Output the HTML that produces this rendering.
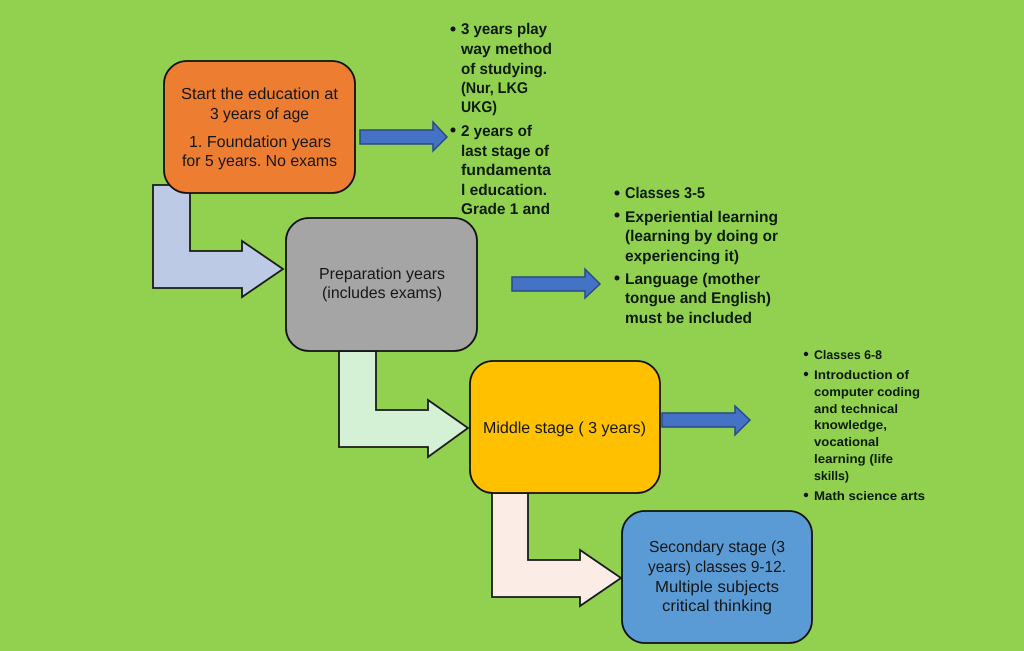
<!DOCTYPE html>
<html><head><meta charset="utf-8"><style>
html,body{margin:0;padding:0;background:#92D050}
svg{display:block;filter:blur(0.3px)}
text{font-family:"Liberation Sans",sans-serif;fill:#161616;text-rendering:geometricPrecision}
.r{font-size:16px}
.b{font-size:15.5px;font-weight:bold;fill:#0c1a08}
.s{font-size:12.5px;font-weight:bold;fill:#0c1a08}
.bx{stroke:#111;stroke-width:1.8}
.bent{stroke:#1a1a1a;stroke-width:1.8;stroke-linejoin:miter}
.ar{fill:#4472C4;stroke:#264A86;stroke-width:1.5}
</style></head><body>
<svg width="1024" height="651" viewBox="0 0 1024 651" xmlns="http://www.w3.org/2000/svg">
<rect width="1024" height="651" fill="#92D050"/>

<polygon class="bent" fill="#BDCAE5" points="153,185 190,185 190,251 242,251 242,241 283,269 242,297 242,288 153,288"/>
<polygon class="bent" fill="#D4F1D5" points="339,351 376,351 376,410 428,410 428,400 468,428 428,457 428,447 339,447"/>
<polygon class="bent" fill="#FBECE6" points="492,493 528,493 528,560 580,560 580,550 621,578 580,606 580,597 492,597"/>

<rect class="bx" x="164" y="61" width="191" height="132" rx="23" fill="#ED7D31"/>
<rect class="bx" x="286" y="218" width="191" height="133" rx="23" fill="#A5A5A5"/>
<rect class="bx" x="470" y="361" width="190" height="132" rx="23" fill="#FFC000"/>
<rect class="bx" x="622" y="511" width="190" height="132" rx="23" fill="#5B9BD5"/>

<polygon class="ar" points="360,130 433,130 433,122 447,137 433,151 433,144 360,144"/>
<polygon class="ar" points="512,277 585,277 585,269 600,284 585,298 585,291 512,291"/>
<polygon class="ar" points="662,413 735,413 735,406 750,420 735,435 735,427 662,427"/>

<text class="r" x="181" y="99" textLength="157" lengthAdjust="spacingAndGlyphs">Start the education at</text>
<text class="r" x="210" y="119" textLength="99" lengthAdjust="spacingAndGlyphs">3 years of age</text>
<text class="r" x="189" y="147" textLength="142" lengthAdjust="spacingAndGlyphs">1. Foundation years</text>
<text class="r" x="182" y="166" textLength="155" lengthAdjust="spacingAndGlyphs">for 5 years. No exams</text>

<text class="r" x="319" y="279" textLength="126" lengthAdjust="spacingAndGlyphs">Preparation years</text>
<text class="r" x="322" y="298" textLength="120" lengthAdjust="spacingAndGlyphs">(includes exams)</text>

<text class="r" x="483" y="433" textLength="163" lengthAdjust="spacingAndGlyphs">Middle stage ( 3 years)</text>

<text class="r" x="649" y="552" textLength="136" lengthAdjust="spacingAndGlyphs">Secondary stage (3</text>
<text class="r" x="648" y="572" textLength="138" lengthAdjust="spacingAndGlyphs">years) classes 9-12.</text>
<text class="r" x="655" y="592" textLength="124" lengthAdjust="spacingAndGlyphs">Multiple subjects</text>
<text class="r" x="662" y="611" textLength="110" lengthAdjust="spacingAndGlyphs">critical thinking</text>

<circle cx="453" cy="29" r="2.5" fill="#111"/>
<text class="b" x="461" y="34" textLength="86" lengthAdjust="spacingAndGlyphs">3 years play</text>
<text class="b" x="461" y="54" textLength="91" lengthAdjust="spacingAndGlyphs">way method</text>
<text class="b" x="461" y="74" textLength="86" lengthAdjust="spacingAndGlyphs">of studying.</text>
<text class="b" x="461" y="93" textLength="67" lengthAdjust="spacingAndGlyphs">(Nur, LKG</text>
<text class="b" x="461" y="112" textLength="36" lengthAdjust="spacingAndGlyphs">UKG)</text>
<circle cx="453" cy="130" r="2.5" fill="#111"/>
<text class="b" x="461" y="136" textLength="71" lengthAdjust="spacingAndGlyphs">2 years of</text>
<text class="b" x="461" y="156" textLength="88" lengthAdjust="spacingAndGlyphs">last stage of</text>
<text class="b" x="461" y="175" textLength="90" lengthAdjust="spacingAndGlyphs">fundamenta</text>
<text class="b" x="461" y="195" textLength="86" lengthAdjust="spacingAndGlyphs">l education.</text>
<text class="b" x="461" y="214" textLength="89" lengthAdjust="spacingAndGlyphs">Grade 1 and</text>

<circle cx="617" cy="193" r="2.5" fill="#111"/>
<text class="b" x="625" y="198" textLength="80" lengthAdjust="spacingAndGlyphs">Classes 3-5</text>
<circle cx="617" cy="215" r="2.5" fill="#111"/>
<text class="b" x="625" y="222" textLength="153" lengthAdjust="spacingAndGlyphs">Experiential learning</text>
<text class="b" x="625" y="241" textLength="153" lengthAdjust="spacingAndGlyphs">(learning by doing or</text>
<text class="b" x="625" y="261" textLength="114" lengthAdjust="spacingAndGlyphs">experiencing it)</text>
<circle cx="617" cy="278" r="2.5" fill="#111"/>
<text class="b" x="625" y="284" textLength="135" lengthAdjust="spacingAndGlyphs">Language (mother</text>
<text class="b" x="625" y="303" textLength="146" lengthAdjust="spacingAndGlyphs">tongue and English)</text>
<text class="b" x="625" y="323" textLength="127" lengthAdjust="spacingAndGlyphs">must be included</text>

<circle cx="806" cy="354" r="2.2" fill="#111"/>
<text class="s" x="814" y="359" textLength="68" lengthAdjust="spacingAndGlyphs">Classes 6-8</text>
<circle cx="806" cy="374" r="2.2" fill="#111"/>
<text class="s" x="814" y="379" textLength="95" lengthAdjust="spacingAndGlyphs">Introduction of</text>
<text class="s" x="814" y="396" textLength="106" lengthAdjust="spacingAndGlyphs">computer coding</text>
<text class="s" x="814" y="413" textLength="84" lengthAdjust="spacingAndGlyphs">and technical</text>
<text class="s" x="814" y="429" textLength="73" lengthAdjust="spacingAndGlyphs">knowledge,</text>
<text class="s" x="814" y="446" textLength="65" lengthAdjust="spacingAndGlyphs">vocational</text>
<text class="s" x="814" y="463" textLength="79" lengthAdjust="spacingAndGlyphs">learning (life</text>
<text class="s" x="814" y="480" textLength="35" lengthAdjust="spacingAndGlyphs">skills)</text>
<circle cx="806" cy="495" r="2.2" fill="#111"/>
<text class="s" x="814" y="500" textLength="111" lengthAdjust="spacingAndGlyphs">Math science arts</text>
</svg>
</body></html>
